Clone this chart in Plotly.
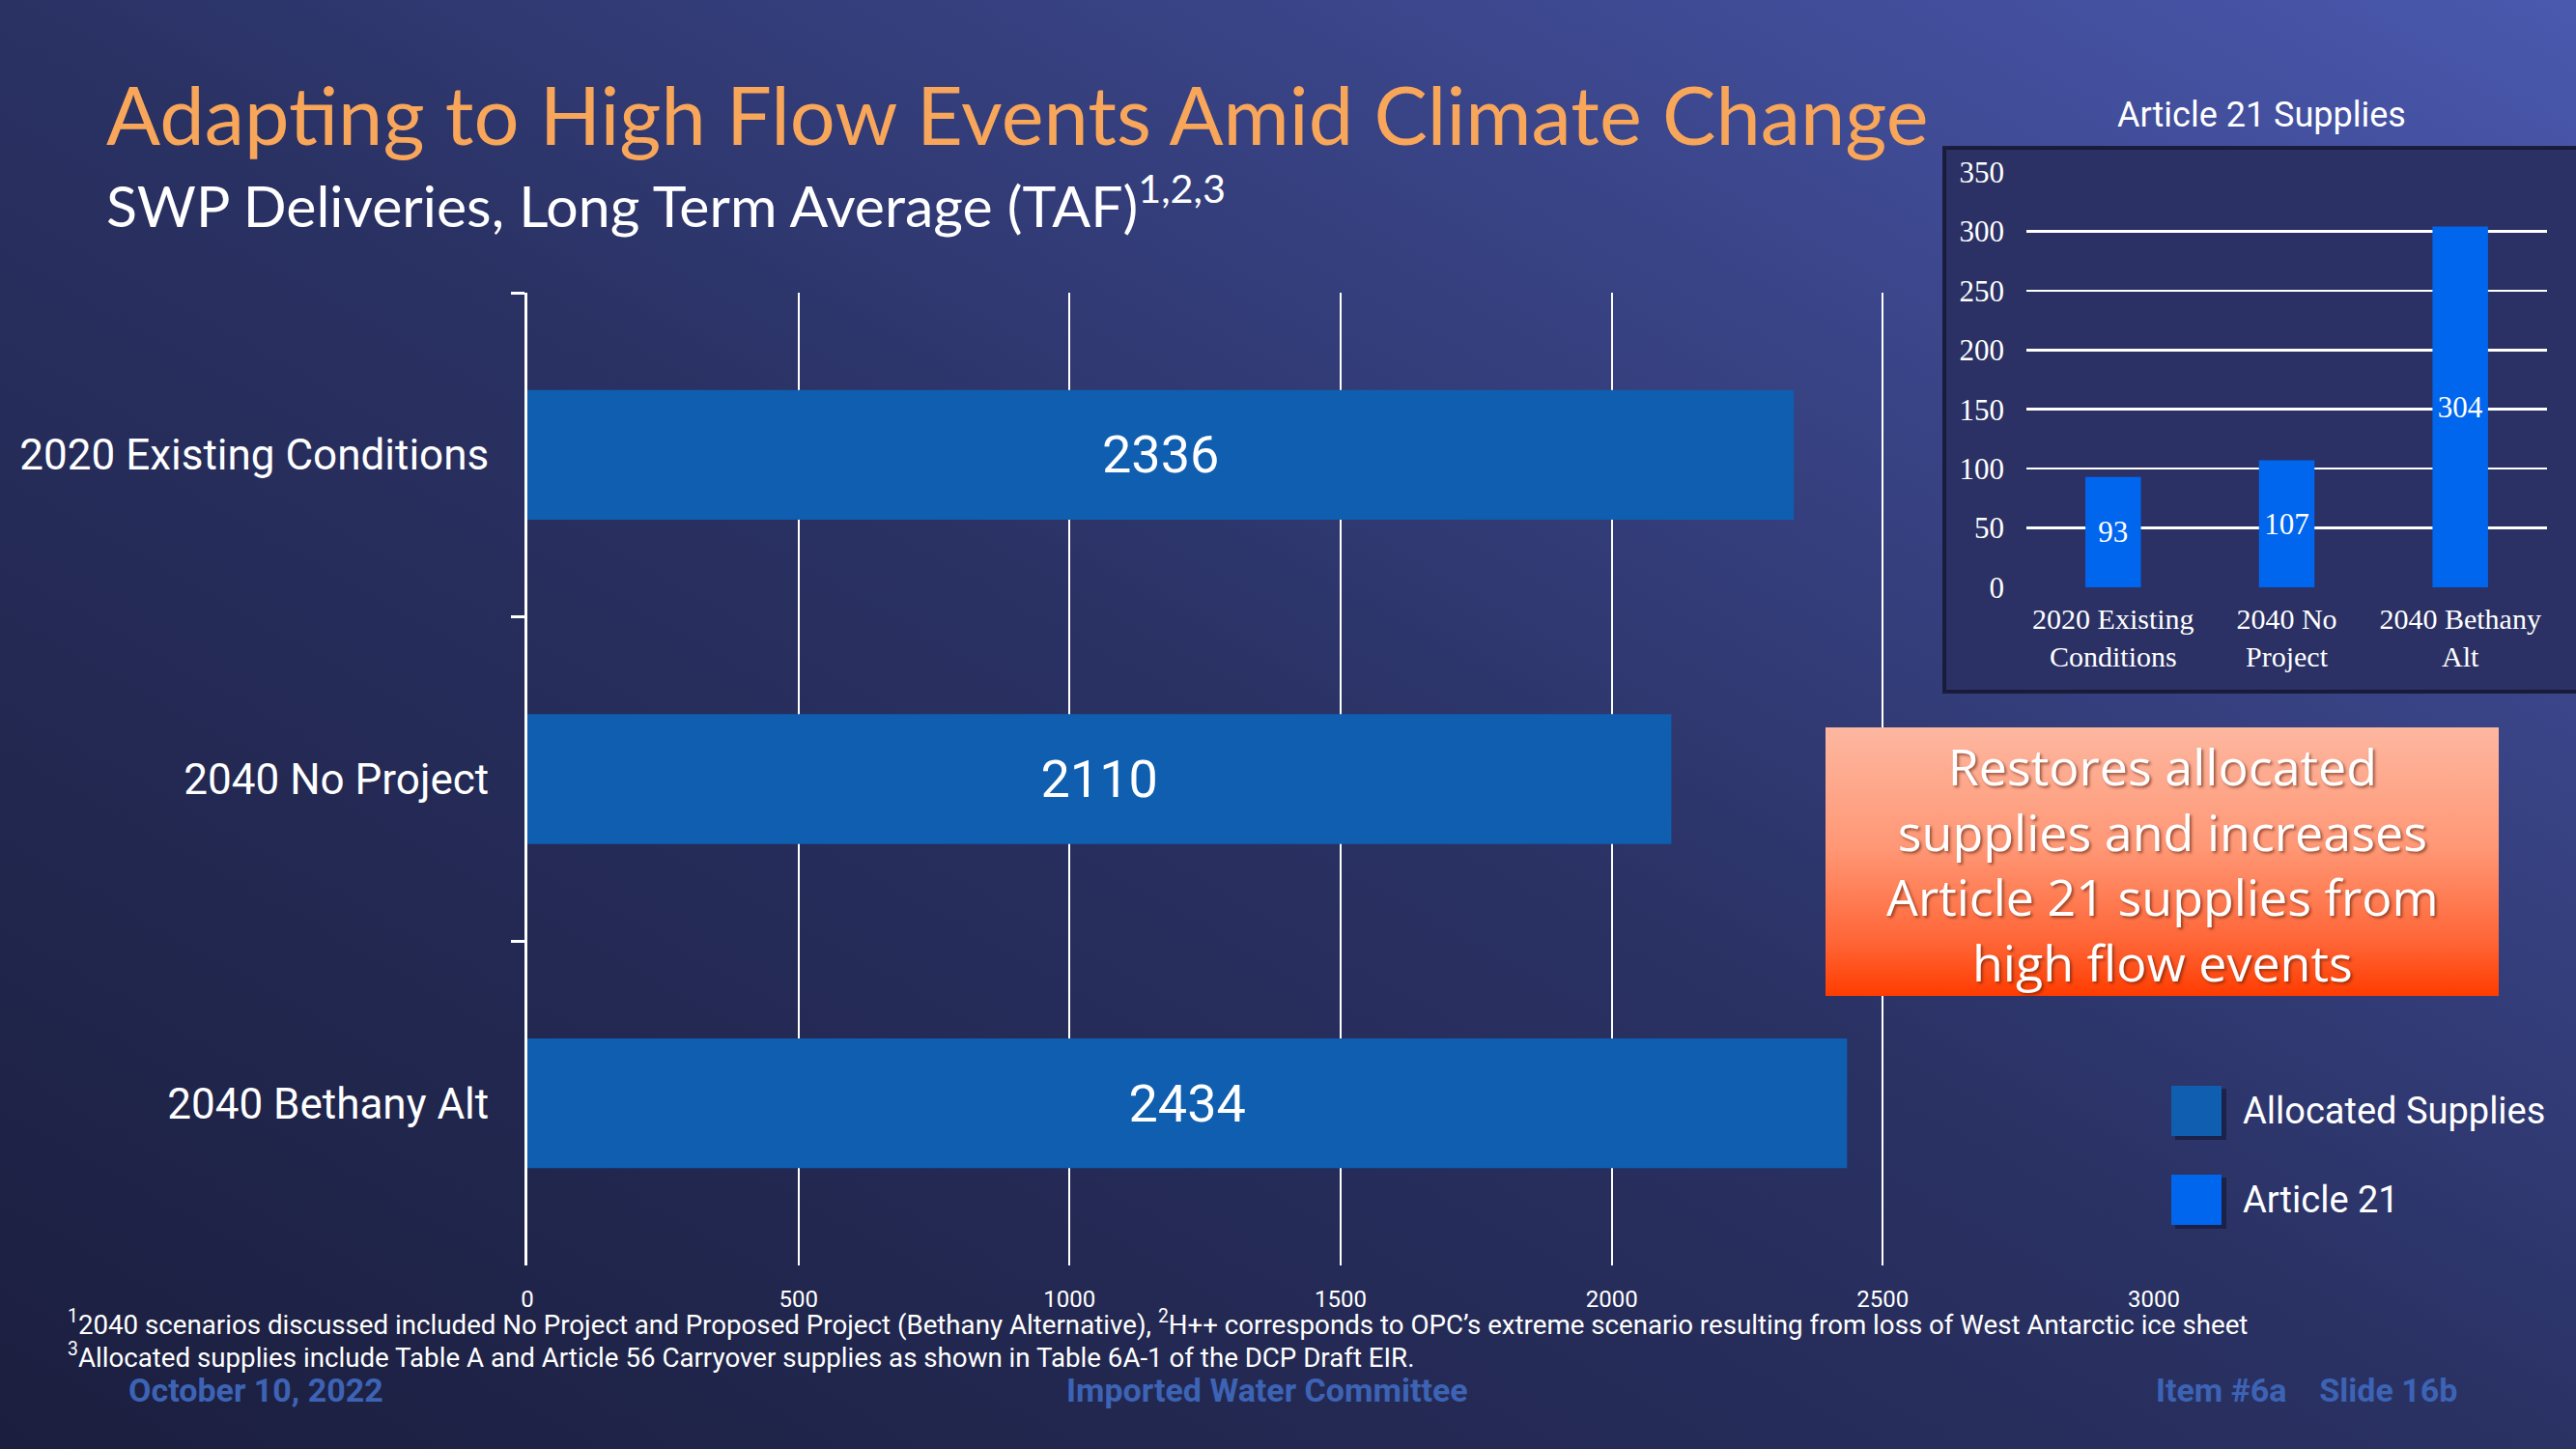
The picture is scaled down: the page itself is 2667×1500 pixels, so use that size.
import base64
import plotly.graph_objects as go

# ---------------- data ----------------
categories = ["2020 Existing Conditions", "2040 No Project", "2040 Bethany Alt"]
allocated_supplies = [2336, 2110, 2434]
main_ticks = [0, 500, 1000, 1500, 2000, 2500, 3000]

inset_categories = ["2020 Existing<br>Conditions", "2040 No<br>Project", "2040 Bethany<br>Alt"]
article21_supplies = [93, 107, 304]
inset_ticks = [0, 50, 100, 150, 200, 250, 300, 350]

title_text = "Adapting to High Flow Events Amid Climate Change"
subtitle_text = "SWP Deliveries, Long Term Average (TAF)<sup>1,2,3</sup>"
inset_title = "Article 21 Supplies"
callout_text = "Restores allocated<br>supplies and increases<br>Article 21 supplies from<br>high flow events"
legend_names = ["Allocated Supplies", "Article 21"]
footnote1 = ("<sup>1</sup>2040 scenarios discussed included No Project and Proposed Project "
             "(Bethany Alternative), <sup>2</sup>H++ corresponds to OPC\u2019s extreme scenario "
             "resulting from loss of West Antarctic ice sheet")
footnote2 = ("<sup>3</sup>Allocated supplies include Table A and Article 56 Carryover supplies "
             "as shown in Table 6A-1 of the DCP Draft EIR.")
footer_left = "October 10, 2022"
footer_mid = "Imported Water Committee"
footer_right = "Item #6a    Slide 16b"

# ---------------- styles ----------------
W, H = 2667, 1500
ALLOC_COLOR = "#105EAF"
ART21_COLOR = "#0066EE"
WHITE = "#FFFFFF"
FOOTER_BLUE = "#3D63B5"


def px(x):
    return x / W


def py(y):
    return 1 - y / H


def svg_uri(svg):
    return "data:image/svg+xml;base64," + base64.b64encode(svg.encode()).decode()


bg_svg = (
    '<svg xmlns="http://www.w3.org/2000/svg" width="2667" height="1500" '
    'viewBox="0 0 2667 1500" preserveAspectRatio="none">'
    '<defs><linearGradient id="g" x1="0" y1="1" x2="1" y2="0">'
    '<stop offset="0" stop-color="#1B1E3E"/>'
    '<stop offset="0.5" stop-color="#2A3264"/>'
    '<stop offset="1" stop-color="#4A58AE"/>'
    '</linearGradient></defs>'
    '<rect width="2667" height="1500" fill="url(#g)"/></svg>'
)

callout_svg = (
    '<svg xmlns="http://www.w3.org/2000/svg" width="700" height="280" '
    'viewBox="0 0 700 280" preserveAspectRatio="none">'
    '<defs><linearGradient id="c" x1="0" y1="0" x2="0" y2="1">'
    '<stop offset="0" stop-color="#FDB7A0"/>'
    '<stop offset="0.45" stop-color="#FF9775"/>'
    '<stop offset="0.8" stop-color="#FF6536"/>'
    '<stop offset="1" stop-color="#FF3C00"/>'
    '</linearGradient></defs>'
    '<rect width="700" height="280" fill="url(#c)"/></svg>'
)

fig = go.Figure()

fig.add_trace(go.Bar(
    y=categories, x=allocated_supplies, orientation="h",
    xaxis="x", yaxis="y", width=0.4,
    marker=dict(color=ALLOC_COLOR, line=dict(width=0)),
    name=legend_names[0],
    text=allocated_supplies, texttemplate="%{x}",
    textposition="inside", insidetextanchor="middle", textangle=0,
    constraintext="none",
    textfont=dict(family="Roboto", size=54, color=WHITE),
    showlegend=False, hoverinfo="skip",
))

fig.add_trace(go.Bar(
    x=inset_categories, y=article21_supplies,
    xaxis="x2", yaxis="y2", width=0.32,
    marker=dict(color=ART21_COLOR, line=dict(width=0)),
    name=legend_names[1],
    text=article21_supplies, texttemplate="%{y}",
    textposition="inside", insidetextanchor="middle", textangle=0,
    constraintext="none",
    textfont=dict(family="Liberation Serif", size=31, color=WHITE),
    showlegend=False, hoverinfo="skip",
))

shapes = [
    # inset panel
    dict(type="rect", xref="paper", yref="paper",
         x0=px(2013), x1=px(2680), y0=py(716), y1=py(153),
         fillcolor="#2B3164", line=dict(color="rgba(22,24,52,0.9)", width=4),
         layer="below"),
]

# legend squares (shadow + square)
legend_y = [1150, 1242]
legend_colors = [ALLOC_COLOR, ART21_COLOR]
for yc, col in zip(legend_y, legend_colors):
    shapes.append(dict(type="rect", xref="paper", yref="paper",
                       x0=px(2252), x1=px(2305), y0=py(yc + 30), y1=py(yc - 23),
                       fillcolor="rgba(15,18,45,0.55)", line=dict(width=0), layer="above"))
    shapes.append(dict(type="rect", xref="paper", yref="paper",
                       x0=px(2248), x1=px(2300), y0=py(yc + 26), y1=py(yc - 26),
                       fillcolor=col, line=dict(width=0), layer="above"))

annotations = [
    dict(text=title_text, xref="paper", yref="paper", x=px(108), y=py(118),
         xanchor="left", yanchor="middle", showarrow=False,
         font=dict(family="Lato", size=83, color="#F8A65A")),
    dict(text=subtitle_text, xref="paper", yref="paper", x=px(108), y=py(208),
         xanchor="left", yanchor="middle", showarrow=False,
         font=dict(family="Lato", size=59, color=WHITE)),
    dict(text=inset_title, xref="paper", yref="paper", x=px(2341), y=py(119),
         xanchor="center", yanchor="middle", showarrow=False,
         font=dict(family="Roboto", size=36, color=WHITE)),
    dict(text=callout_text, xref="paper", yref="paper", x=px(2239), y=py(894),
         xanchor="center", yanchor="middle", showarrow=False, align="center",
         font=dict(family="Open Sans", size=52, color=WHITE,
                   shadow="2px 2px 3px rgba(90,30,10,0.6)")),
    dict(text=footnote1, xref="paper", yref="paper", x=px(68), y=py(1369),
         xanchor="left", yanchor="middle", showarrow=False,
         font=dict(family="Roboto", size=27.7, color=WHITE)),
    dict(text=footnote2, xref="paper", yref="paper", x=px(68), y=py(1403),
         xanchor="left", yanchor="middle", showarrow=False,
         font=dict(family="Roboto", size=27.7, color=WHITE)),
    dict(text=footer_left, xref="paper", yref="paper", x=px(131), y=py(1439),
         xanchor="left", yanchor="middle", showarrow=False,
         font=dict(family="Roboto", size=34, color=FOOTER_BLUE, weight=700)),
    dict(text=footer_mid, xref="paper", yref="paper", x=px(1312), y=py(1439),
         xanchor="center", yanchor="middle", showarrow=False,
         font=dict(family="Roboto", size=34, color=FOOTER_BLUE, weight=700)),
    dict(text=footer_right, xref="paper", yref="paper", x=px(2546), y=py(1439),
         xanchor="right", yanchor="middle", showarrow=False,
         font=dict(family="Roboto", size=34, color=FOOTER_BLUE, weight=700)),
]
for yc, name in zip(legend_y, legend_names):
    annotations.append(dict(text=name, xref="paper", yref="paper", x=px(2320), y=py(yc),
                            xanchor="left", yanchor="middle", showarrow=False,
                            font=dict(family="Roboto", size=38, color=WHITE)))

images = [
    dict(source=svg_uri(bg_svg), xref="paper", yref="paper", x=0, y=1,
         sizex=1, sizey=1, xanchor="left", yanchor="top", sizing="stretch",
         layer="below"),
    dict(source=svg_uri(callout_svg), xref="paper", yref="paper", x=px(1890), y=py(753),
         sizex=px(2587) - px(1890), sizey=py(753) - py(1031), xanchor="left", yanchor="top",
         sizing="stretch", layer="above"),
]

fig.update_layout(
    width=W, height=H,
    margin=dict(l=0, r=0, t=0, b=0, pad=0, autoexpand=False),
    paper_bgcolor="#242A58",
    plot_bgcolor="rgba(0,0,0,0)",
    showlegend=False,
    hovermode=False,
    xaxis=dict(domain=[px(546), px(2230)], range=[0, 3000], anchor="y", automargin=False,
               tickvals=main_ticks, showgrid=True, gridcolor=WHITE, gridwidth=2,
               zeroline=False, showline=False, ticks="", ticklabelstandoff=18,
               tickfont=dict(family="Roboto", size=24, color=WHITE), fixedrange=True),
    yaxis=dict(domain=[py(1310), py(303)], anchor="x", type="category", automargin=False,
               categoryorder="array", categoryarray=categories, autorange="reversed",
               showgrid=False, zeroline=False, showline=True, linecolor=WHITE, linewidth=3,
               ticks="outside", tickson="boundaries", ticklen=14, tickwidth=3,
               tickcolor=WHITE, ticklabelstandoff=28,
               tickfont=dict(family="Roboto", size=44, color=WHITE), fixedrange=True),
    xaxis2=dict(domain=[px(2098), px(2637)], anchor="y2", type="category", automargin=False,
                showgrid=False, zeroline=False, showline=False, ticks="",
                ticklabelstandoff=12,
                tickfont=dict(family="Liberation Serif", size=30, color=WHITE),
                fixedrange=True),
    yaxis2=dict(domain=[py(608), py(178)], anchor="x2", range=[0, 350], automargin=False,
                tickvals=inset_ticks, showgrid=True, gridcolor=WHITE, gridwidth=2.5,
                zeroline=False, showline=False, ticks="", ticklabelstandoff=22,
                tickfont=dict(family="Liberation Serif", size=31, color=WHITE),
                fixedrange=True),
    shapes=shapes,
    annotations=annotations,
    images=images,
)

fig.write_html(
    "out.html",
    config={"displayModeBar": False, "staticPlot": True},
    post_script="document.body.style.margin='0';document.body.style.overflow='hidden';",
)
